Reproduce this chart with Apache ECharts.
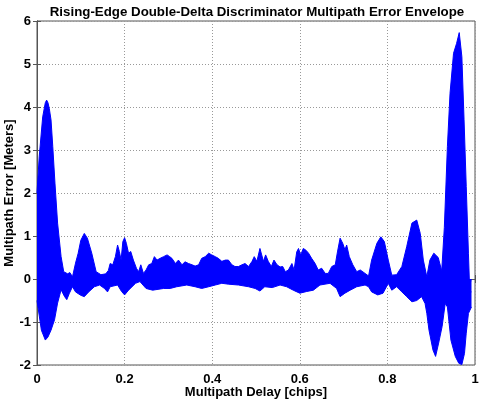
<!DOCTYPE html>
<html>
<head>
<meta charset="utf-8">
<script src="https://cdn.jsdelivr.net/npm/echarts@6/dist/echarts.min.js"></script>
<style>html,body{margin:0;padding:0;background:#fff;}#c{width:480px;height:402px;}</style>
</head>
<body>
<div id="c"></div>
<script>
// Upper envelope of the multipath error (delay in chips, error in meters)
const upperDelay = [0,0.005,0.013,0.019,0.022,0.025,0.028,0.032,0.036,0.041,0.047,0.055,0.061,0.070,0.075,0.081,0.088,0.094,0.100,0.108,0.115,0.125,0.135,0.146,0.157,0.163,
  0.167,0.173,0.179,0.184,0.188,0.192,0.196,0.200,0.204,0.209,0.214,0.220,0.227,0.232,0.237,0.243,0.249,0.255,0.262,0.268,0.274,0.281,0.289,0.297,0.303,0.308,0.316,0.323,0.331,0.338,0.346,0.354,0.361,
  0.369,0.376,0.384,0.392,0.399,0.407,0.414,0.422,0.430,0.437,0.445,0.452,0.460,0.468,0.475,0.483,0.491,0.496,0.502,0.509,0.513,0.517,0.522,0.528,0.535,0.541,0.548,0.555,
  0.561,0.567,0.574,0.582,0.587,0.593,0.597,0.602,0.608,0.614,0.620,0.627,0.635,0.642,0.650,0.658,0.665,0.673,0.681,0.686,0.692,0.698,0.703,0.707,0.713,0.721,0.730,0.738,0.749,
  0.757,0.764,0.776,0.785,0.793,0.802,0.810,0.821,0.833,0.844,0.856,0.867,0.875,0.882,0.890,0.897,0.906,0.916,0.924,0.930,0.933,0.937,0.943,0.951,0.958,0.964,0.970,0.975,0.980,0.985,0.988,0.992];
const upperError = [2.0,2.84,3.77,4.1,4.16,4.1,3.97,3.7,3.08,2.23,1.3,0.52,0.17,0.12,0.15,0.05,0.37,0.6,0.9,1.06,0.95,0.6,0.17,0.1,0.12,0.2,
  0.36,0.33,0.52,0.79,0.64,0.44,0.87,0.96,0.83,0.6,0.64,0.44,0.25,0.17,0.33,0.13,0.21,0.33,0.36,0.52,0.44,0.48,0.52,0.56,0.52,0.48,0.36,0.44,0.33,0.40,0.36,0.33,0.30,
  0.33,0.48,0.52,0.6,0.56,0.52,0.48,0.41,0.44,0.44,0.33,0.29,0.29,0.33,0.36,0.29,0.41,0.52,0.41,0.71,0.56,0.41,0.56,0.41,0.29,0.44,0.33,0.28,
  0.29,0.17,0.21,0.36,0.21,0.63,0.71,0.56,0.71,0.67,0.6,0.48,0.36,0.21,0.25,0.13,0.13,0.29,0.33,0.63,0.95,0.83,0.68,0.79,0.52,0.33,0.17,0.21,0.13,
  0.07,0.44,0.83,0.98,0.87,0.44,0.09,0.1,0.29,0.75,1.3,1.37,1.06,0.44,0.05,0.44,0.6,0.5,0.19,1.2,2.0,3.08,4.32,5.25,5.48,5.73,5.17,3.7,2.15,0.6,-0.3,-0.3];
// Lower envelope
const lowerDelay = [0,0.010,0.019,0.025,0.032,0.040,0.047,0.055,0.063,0.068,0.074,0.081,0.088,0.100,0.108,0.118,0.131,0.143,0.154,0.161,
  0.167,0.184,0.193,0.200,0.209,0.225,0.235,0.249,0.264,0.289,0.304,0.319,0.342,0.361,
  0.376,0.392,0.407,0.422,0.437,0.460,0.483,0.498,0.509,0.520,0.537,0.555,
  0.570,0.585,0.600,0.616,0.631,0.646,0.669,0.684,0.692,0.703,0.715,0.730,0.749,
  0.757,0.764,0.778,0.790,0.802,0.810,0.821,0.833,0.844,0.856,0.867,0.878,0.886,0.890,0.895,0.904,0.910,0.917,0.925,0.932,0.937,0.945,0.955,0.963,0.970,0.976,0.980,0.985,0.992];
const lowerError = [-0.5,-1.19,-1.42,-1.35,-1.19,-0.95,-0.56,-0.25,-0.41,-0.48,-0.33,-0.18,-0.3,-0.38,-0.41,-0.3,-0.18,-0.14,-0.22,-0.3,
  -0.18,-0.14,-0.29,-0.37,-0.26,-0.1,-0.06,-0.22,-0.26,-0.22,-0.22,-0.18,-0.14,-0.18,
  -0.22,-0.18,-0.14,-0.1,-0.12,-0.14,-0.18,-0.22,-0.28,-0.18,-0.2,-0.14,
  -0.18,-0.26,-0.33,-0.29,-0.26,-0.14,-0.1,-0.22,-0.41,-0.33,-0.26,-0.18,-0.14,
  -0.18,-0.3,-0.37,-0.33,-0.1,-0.26,-0.18,-0.3,-0.41,-0.53,-0.5,-0.41,-0.57,-0.8,-1.19,-1.65,-1.8,-1.49,-1.1,-0.57,-0.65,-1.42,-1.8,-1.96,-1.99,-1.73,-1.26,-0.8,-0.65];
const xTicks = [0, 0.2, 0.4, 0.6, 0.8, 1];
const yTicks = [-2, -1, 0, 1, 2, 3, 4, 5, 6];

const upperData = upperDelay.map((d, i) => [d, upperError[i]]);
const lowerData = lowerDelay.map((d, i) => [d, lowerError[i]]);

const FONT = '"Liberation Sans", Arial, sans-serif';
const chart = echarts.init(document.getElementById('c'), null, {renderer: 'canvas'});
const baseX = {type: 'value', min: xTicks[0], max: xTicks[xTicks.length-1], interval: 0.2};
const baseY = {type: 'value', min: yTicks[0], max: yTicks[yTicks.length-1], interval: 1};
const blue = '#0000ff';
const nameStyle = {fontFamily: FONT, fontWeight: 'bold', fontSize: 13, color: '#000'};
chart.setOption({
  animation: false,
  backgroundColor: '#fff',
  title: {
    text: 'Rising-Edge Double-Delta Discriminator Multipath Error Envelope',
    left: 252, top: 1, textAlign: 'center',
    textStyle: {fontFamily: FONT, fontWeight: 'bold', fontSize: 13.3, color: '#000'}
  },
  grid: {left: 37, right: 5, top: 21, bottom: 37, show: true, borderColor: '#555', borderWidth: 1, outerBoundsMode: 'none'},
  xAxis: [
    Object.assign({}, baseX, {
      position: 'bottom',
      name: 'Multipath Delay [chips]', nameLocation: 'middle', nameGap: 21, nameMoveOverlap: false,
      nameTextStyle: nameStyle,
      axisLine: {show: true, lineStyle: {color: '#555'}},
      axisTick: {show: true, inside: true, length: 4, lineStyle: {color: '#555'}},
      axisLabel: {margin: 8, fontFamily: FONT, fontWeight: 'bold', fontSize: 13, color: '#000'},
      splitLine: {show: true, lineStyle: {color: '#999', type: [1, 2], width: 1}}
    }),
    Object.assign({}, baseX, {
      position: 'top',
      axisLine: {show: true, lineStyle: {color: '#555'}},
      axisTick: {show: true, inside: true, length: 4, lineStyle: {color: '#555'}},
      axisLabel: {show: false}, splitLine: {show: false}
    })
  ],
  yAxis: [
    Object.assign({}, baseY, {
      position: 'left',
      name: 'Multipath Error [Meters]', nameLocation: 'middle', nameGap: 21, nameMoveOverlap: false,
      nameTextStyle: nameStyle,
      axisLine: {show: true, lineStyle: {color: '#555'}},
      axisTick: {show: true, inside: true, length: 4, lineStyle: {color: '#555'}},
      axisLabel: {margin: 6, fontFamily: FONT, fontWeight: 'bold', fontSize: 13, color: '#000'},
      splitLine: {show: true, lineStyle: {color: '#999', type: [1, 2], width: 1}}
    }),
    Object.assign({}, baseY, {
      position: 'right',
      axisLine: {show: true, lineStyle: {color: '#555'}},
      axisTick: {show: true, inside: true, length: 4, lineStyle: {color: '#555'}},
      axisLabel: {show: false}, splitLine: {show: false}
    })
  ],
  series: [
    {
      type: 'line', data: upperData, showSymbol: false, symbol: 'none', silent: true,
      lineStyle: {color: blue, width: 1}, itemStyle: {color: blue},
      areaStyle: {color: blue, opacity: 1, origin: 0}
    },
    {
      type: 'line', data: lowerData, showSymbol: false, symbol: 'none', silent: true,
      lineStyle: {color: blue, width: 1}, itemStyle: {color: blue},
      areaStyle: {color: blue, opacity: 1, origin: 0}
    }
  ]
});
</script>
</body>
</html>
